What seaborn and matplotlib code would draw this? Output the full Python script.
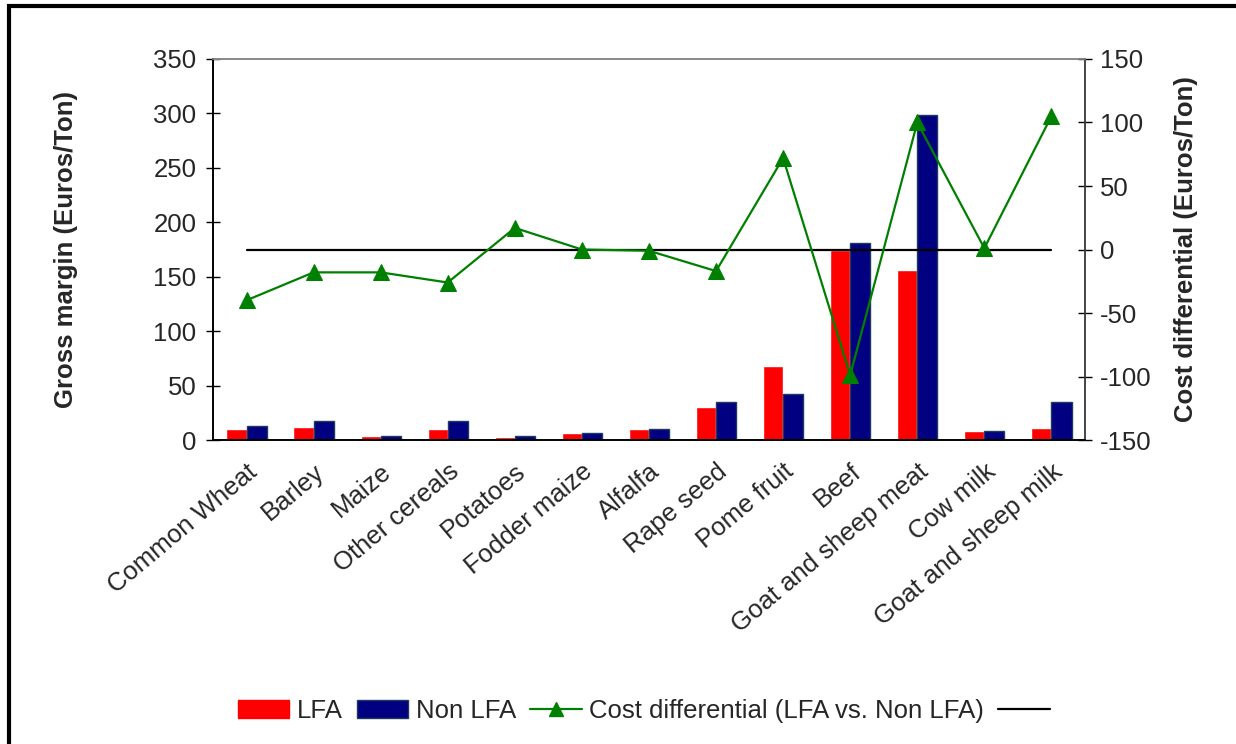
import numpy as np
import pandas as pd
import matplotlib
matplotlib.use("Agg")
import matplotlib.pyplot as plt
from matplotlib.lines import Line2D
from matplotlib.patches import Patch, Rectangle
import seaborn as sns

sns.set_theme(style="white")
plt.rcParams['font.family'] = ['Liberation Sans', 'DejaVu Sans']
plt.rcParams['axes.unicode_minus'] = False

# Data
categories = ["Common Wheat", "Barley", "Maize", "Other cereals", "Potatoes",
              "Fodder maize", "Alfalfa", "Rape seed", "Pome fruit", "Beef",
              "Goat and sheep meat", "Cow milk", "Goat and sheep milk"]
lfa = [10, 12, 4, 10, 3, 6, 10, 30, 68, 175, 156, 8, 11]
non_lfa = [13, 17, 4, 17, 4, 6, 10, 35, 42, 181, 299, 8, 35]
cost_diff = [-40, -18, -18, -26, 17, 0, -1, -17, 72, -99, 100, 1, 105]
zero_line = [0] * len(categories)

df = pd.DataFrame({
    "category": categories * 2,
    "value": lfa + non_lfa,
    "group": ["LFA"] * len(categories) + ["Non LFA"] * len(categories),
})

fs = 18.5
fig = plt.figure(figsize=(12.36, 7.44), dpi=100)
ax = fig.add_axes([0.1723, 0.4086, 0.7055, 0.5121])

sns.barplot(data=df, x="category", y="value", hue="group",
            palette={"LFA": "#FF0000", "Non LFA": "#000080"},
            width=0.6, gap=0, saturation=1, ax=ax, legend=False)
for bar in ax.patches[len(categories):]:
    bar.set_edgecolor("#1F3A60")
    bar.set_linewidth(1.0)

ax.set_ylim(0, 350)
ax.set_yticks(np.arange(0, 351, 50))
ax.set_xlim(-0.5, len(categories) - 0.5)
ax.set_xlabel("")
ax.set_ylabel("Gross margin (Euros/Ton)", fontsize=fs, fontweight="bold", labelpad=54)

# category separators as minor ticks
ax.set_xticks(np.arange(-0.5, len(categories), 1.0), minor=True)
ax.set_xticks(np.arange(len(categories)))
ax.set_xticklabels(categories, rotation=40, ha="right", rotation_mode="anchor",
                   fontsize=fs)
ax.tick_params(axis="x", which="major", length=0, pad=14)
ax.tick_params(axis="x", which="minor", length=10, width=1, direction="inout",
               color="black")
ax.tick_params(axis="y", length=10, width=1, direction="inout", color="black",
               labelsize=fs, pad=7)

ax2 = ax.twinx()
x_pos = np.arange(len(categories))
sns.lineplot(x=x_pos, y=zero_line, color="black", linewidth=1.6, ax=ax2)
sns.lineplot(x=x_pos, y=cost_diff, color="#008000", linewidth=1.6, marker="^",
             markersize=11, markeredgecolor="#008000", ax=ax2)
ax2.set_ylim(-150, 150)
ax2.set_yticks(np.arange(-150, 151, 50))
ax2.set_ylabel("Cost differential (Euros/Ton)", fontsize=fs, fontweight="bold",
               labelpad=16)
ax2.tick_params(axis="y", length=10, width=1, direction="inout", color="black",
                labelsize=fs, pad=6)
ax2.set_xlim(-0.5, len(categories) - 0.5)

for a in (ax, ax2):
    a.spines["left"].set_color("black")
    a.spines["bottom"].set_color("black")
    a.spines["right"].set_color("#444444")
    a.spines["top"].set_color("#888888")
    for s in a.spines.values():
        s.set_linewidth(1.2)

handles = [
    Patch(facecolor="#FF0000", edgecolor="#FF0000"),
    Patch(facecolor="#000080", edgecolor="#1F3A60"),
    Line2D([], [], color="#008000", linewidth=1.6, marker="^", markersize=10),
    Line2D([], [], color="black", linewidth=1.6),
]
labels = ["LFA", "Non LFA", "Cost differential (LFA vs. Non LFA)", ""]
fig.legend(handles, labels, loc="center", bbox_to_anchor=(0.524, 0.044), ncol=4,
           frameon=False, fontsize=fs, handlelength=2.0, handletextpad=0.3,
           columnspacing=0.55)

# outer chart border (only top/left visible in the picture)
fig.patches.append(Rectangle((0.007, -0.05), 1.2, 1.042, transform=fig.transFigure,
                             fill=False, edgecolor="black", linewidth=3))

fig.savefig("out.png", dpi=100)
